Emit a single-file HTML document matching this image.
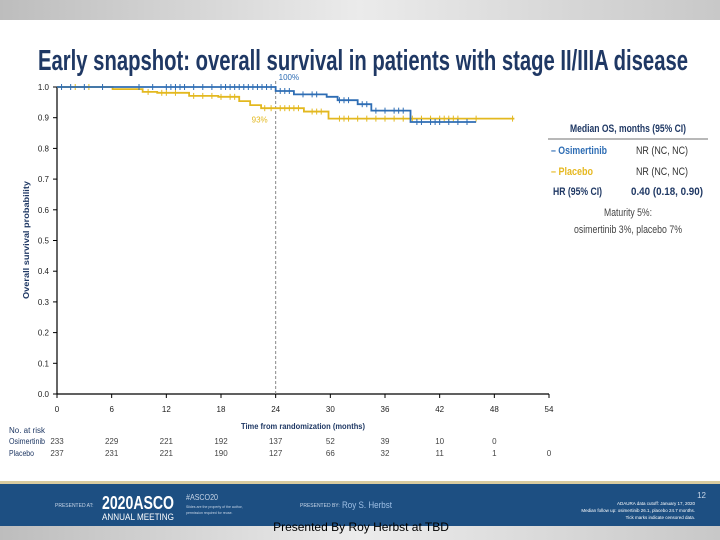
<!DOCTYPE html>
<html><head><meta charset="utf-8"><style>
html,body{margin:0;padding:0;background:#fff;}
svg{display:block;font-family:"Liberation Sans",sans-serif;}
</style></head><body>
<svg id="chart" width="720" height="540" viewBox="0 0 720 540">
<defs>
<linearGradient id="topg" x1="0" y1="0" x2="1" y2="0"><stop offset="0" stop-color="#bdbdbd"/><stop offset="0.5" stop-color="#ebebeb"/><stop offset="1" stop-color="#c8c8c8"/></linearGradient>
<linearGradient id="botg" x1="0" y1="0" x2="1" y2="0"><stop offset="0" stop-color="#bdbdbd"/><stop offset="0.5" stop-color="#ececec"/><stop offset="1" stop-color="#c8c8c8"/></linearGradient>
</defs>
<rect x="0" y="0" width="720" height="20" fill="url(#topg)"/>
<text x="38" y="70" font-size="29" font-weight="bold" fill="#1f3864" textLength="650" lengthAdjust="spacingAndGlyphs">Early snapshot: overall survival in patients with stage II/IIIA disease</text>
<g id="plot"></g>
<g>
<text x="570" y="132" font-size="11" font-weight="bold" fill="#1f3864" textLength="116" lengthAdjust="spacingAndGlyphs">Median OS, months (95% CI)</text>
<line x1="548" y1="139" x2="708" y2="139" stroke="#a0a0a0" stroke-width="1.5"/>
<text x="551" y="154" font-size="11" font-weight="bold" fill="#2e6db4" textLength="56" lengthAdjust="spacingAndGlyphs">– Osimertinib</text>
<text x="636" y="154" font-size="11" fill="#333" textLength="52" lengthAdjust="spacingAndGlyphs">NR (NC, NC)</text>
<text x="551" y="175" font-size="11" font-weight="bold" fill="#e6b820" textLength="42" lengthAdjust="spacingAndGlyphs">– Placebo</text>
<text x="636" y="175" font-size="11" fill="#333" textLength="52" lengthAdjust="spacingAndGlyphs">NR (NC, NC)</text>
<text x="553" y="195" font-size="11" font-weight="bold" fill="#1f3864" textLength="49" lengthAdjust="spacingAndGlyphs">HR (95% CI)</text>
<text x="631" y="195" font-size="11" font-weight="bold" fill="#1f3864" textLength="72" lengthAdjust="spacingAndGlyphs">0.40 (0.18, 0.90)</text>
<text x="628" y="216" font-size="11" fill="#444" text-anchor="middle" textLength="48" lengthAdjust="spacingAndGlyphs">Maturity 5%:</text>
<text x="628" y="233" font-size="11" fill="#444" text-anchor="middle" textLength="108" lengthAdjust="spacingAndGlyphs">osimertinib 3%, placebo 7%</text>
</g>
<rect x="0" y="484" width="720" height="42" fill="#1d4f82"/>
<rect x="0" y="481" width="720" height="3" fill="#d8cba0"/>
<text x="55" y="507" font-size="5" fill="#c8d6e8">PRESENTED AT:</text>
<text x="102" y="509" font-size="18" font-weight="bold" fill="#fff" textLength="72" lengthAdjust="spacingAndGlyphs">2020ASCO</text>
<text x="102" y="520" font-size="9" fill="#fff" textLength="72" lengthAdjust="spacingAndGlyphs">ANNUAL MEETING</text>
<text x="186" y="500" font-size="8" fill="#c8d6e8" textLength="32" lengthAdjust="spacingAndGlyphs">#ASCO20</text>
<text x="186" y="508" font-size="3.5" fill="#c8d6e8">Slides are the property of the author,</text>
<text x="186" y="514" font-size="3.5" fill="#c8d6e8">permission required for reuse.</text>
<text x="300" y="507" font-size="5" fill="#c8d6e8">PRESENTED BY:</text>
<text x="342" y="508" font-size="9" fill="#9fc0e6" textLength="50" lengthAdjust="spacingAndGlyphs">Roy S. Herbst</text>
<text x="706" y="498" font-size="8" fill="#c8d6e8" text-anchor="end">12</text>
<text x="695" y="505" font-size="4.5" fill="#fff" text-anchor="end">ADAURA data cutoff: January 17, 2020</text>
<text x="695" y="512" font-size="4.5" fill="#fff" text-anchor="end">Median follow up: osimertinib 26.1, placebo 24.7 months.</text>
<text x="695" y="519" font-size="4.5" fill="#fff" text-anchor="end">Tick marks indicate censored data.</text>
<rect x="0" y="526" width="720" height="14" fill="url(#botg)"/>
<text x="361" y="531" font-size="12" fill="#000" text-anchor="middle">Presented By Roy Herbst at TBD</text>
</svg>
<script>
const xTicks = [0, 6, 12, 18, 24, 30, 36, 42, 48, 54];
const yTicks = [0.0, 0.1, 0.2, 0.3, 0.4, 0.5, 0.6, 0.7, 0.8, 0.9, 1.0];
const osiTimes = [0, 24, 26, 29.6, 30.8, 33, 34.5, 38.8, 46];
const osiSurv = [1.0, 0.987, 0.976, 0.968, 0.957, 0.944, 0.923, 0.886, 0.886];
const plaTimes = [0, 6.1, 9.4, 11, 14.5, 17.7, 20, 21.2, 22.4, 27.1, 29.8, 50.2];
const plaSurv = [1.0, 0.993, 0.984, 0.981, 0.971, 0.968, 0.954, 0.941, 0.931, 0.92, 0.897, 0.897];
const osiCensor = [0.5, 1.5, 3, 5, 9, 10.5, 12, 12.5, 13, 13.5, 14, 15, 16, 17, 18, 18.5, 19, 19.5, 20, 20.5, 21, 21.5, 22, 22.5, 23, 23.5, 24.5, 25, 25.5, 27, 28, 28.5, 31, 31.5, 32, 33.5, 34, 35, 36, 37, 37.5, 38, 39.5, 40, 41, 41.5, 42, 43, 44, 45];
const plaCensor = [2, 3.5, 10, 11.5, 12, 13, 15, 16, 17, 18, 19, 19.5, 22.8, 23.5, 24.5, 25, 25.5, 26, 26.5, 28, 28.5, 29, 31, 31.5, 32, 33, 34, 35, 36, 37, 38, 39, 40, 41, 42, 42.5, 43, 43.5, 44, 46, 50];
const riskLabels = ["Osimertinib", "Placebo"];
const riskOsi = [233, 229, 221, 192, 137, 52, 39, 10, 0, null];
const riskPla = [237, 231, 221, 190, 127, 66, 32, 11, 1, 0];

const NS = "http://www.w3.org/2000/svg";
const g = document.getElementById("plot");
const X0 = 57, X1 = 549, Y0 = 394, Y1 = 87;
function xs(t){ return X0 + (t - 0) / 54 * (X1 - X0); }
function ys(v){ return Y0 - v * (Y0 - Y1); }
function mk(tag, attrs, parent){ const e = document.createElementNS(NS, tag); for (const k in attrs) e.setAttribute(k, attrs[k]); (parent||g).appendChild(e); return e; }

const yAxis = mk("line", {x1:X0, y1:Y0, x2:X0, y2:Y1, stroke:"#000", "stroke-width":1.2});


const xAxis = mk("line", {x1:X0, y1:Y0, x2:X1, y2:Y0, stroke:"#000", "stroke-width":1.2});


yTicks.forEach(v => {
  mk("line", {x1:X0-4, y1:ys(v), x2:X0, y2:ys(v), stroke:"#000"});
  const t = mk("text", {x:X0-8, y:ys(v)+3, "font-size":8, "text-anchor":"end", fill:"#222"});
  t.textContent = v.toFixed(1);
  
  
});
xTicks.forEach(v => {
  mk("line", {x1:xs(v), y1:Y0, x2:xs(v), y2:Y0+4, stroke:"#000"});
  const t = mk("text", {x:xs(v), y:Y0+18, "font-size":8, "text-anchor":"middle", fill:"#222"});
  t.textContent = v;
  
  
});
const yt = mk("text", {x:0, y:0, "font-size":8, "font-weight":"bold", "text-anchor":"middle", fill:"#1f3864", transform:"translate(29,240) rotate(-90)", textLength:"118", lengthAdjust:"spacingAndGlyphs"});
yt.textContent = "Overall survival probability";


const xt = mk("text", {x:xs(27), y:429, "font-size":8.5, "font-weight":"bold", "text-anchor":"middle", fill:"#1f3864", textLength:"124", lengthAdjust:"spacingAndGlyphs"});
xt.textContent = "Time from randomization (months)";


const dl = mk("line", {x1:xs(24), y1:Y0, x2:xs(24), y2:ys(1.0)-8, stroke:"#888", "stroke-dasharray":"3,2", "stroke-width":1});



function stepPath(times, surv){
  let d = "M" + xs(times[0]) + "," + ys(surv[0]);
  for (let i = 1; i < times.length; i++){ d += " H" + xs(times[i]) + " V" + ys(surv[i]); }
  return d;
}
function survAt(times, surv, t){ let v = surv[0]; for (let i = 0; i < times.length; i++) if (times[i] <= t) v = surv[i]; return v; }
function drawSeries(times, surv, censor, color, name){
  const p = mk("path", {d:stepPath(times, surv), fill:"none", stroke:color, "stroke-width":1.8});
  
  
  censor.forEach(c => {
    const x = xs(c), y = ys(survAt(times, surv, c));
    const tk = mk("line", {x1:x, y1:y-3, x2:x, y2:y+3, stroke:color, "stroke-width":1});
    
    
  });
}
drawSeries(plaTimes, plaSurv, plaCensor, "#e3b81f", "placebo");
drawSeries(osiTimes, osiSurv, osiCensor, "#2e6db4", "osimertinib");
const l1 = mk("text", {x:xs(24)+3, y:ys(1.0)-7, "font-size":8, fill:"#2e6db4"});
l1.textContent = "100%";


const l2 = mk("text", {x:xs(24)-24, y:ys(0.9)+5, "font-size":8, fill:"#e3b81f"});
l2.textContent = "93%";



const nar = mk("text", {x:9, y:433, "font-size":8, fill:"#1f3864", textLength:"36", lengthAdjust:"spacingAndGlyphs"});
nar.textContent = "No. at risk";


[riskOsi, riskPla].forEach((row, r) => {
  const yy = 444 + r * 12;
  const lab = mk("text", {x:9, y:yy, "font-size":8, fill:"#1f3864", textLength: r === 0 ? "36" : "25", lengthAdjust:"spacingAndGlyphs"});
  lab.textContent = riskLabels[r];
  
  
  row.forEach((v, i) => {
    if (v === null) return;
    const t = mk("text", {x:xs(xTicks[i]), y:yy, "font-size":8, "text-anchor":"middle", fill:"#444"});
    t.textContent = v;
    
    
  });
});
</script>
</body></html>
